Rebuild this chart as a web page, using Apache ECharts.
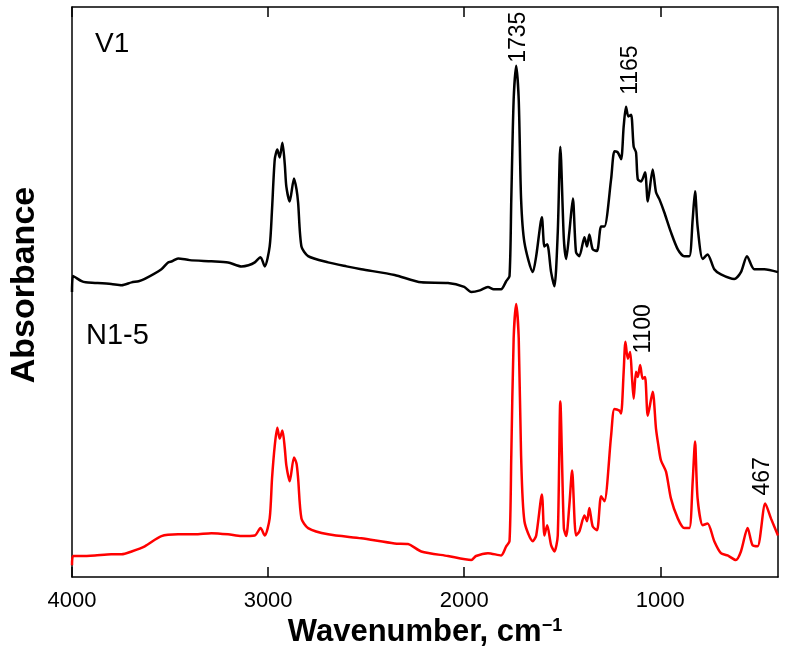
<!DOCTYPE html>
<html>
<head>
<meta charset="utf-8">
<script src="https://cdn.jsdelivr.net/npm/echarts@6/dist/echarts.min.js"></script>
<style>
  html, body { margin: 0; padding: 0; background: #fff; }
  #chart { width: 790px; height: 653px; }
</style>
</head>
<body>
<div id="chart"></div>
<script>
// FTIR spectra, absorbance in arbitrary units (V1 is drawn offset above N1-5)
const v1Wavenumber = [4000, 3995, 3951, 3930, 3883, 3800, 3747, 3696, 3660, 3629, 3544, 3510, 3490, 3459, 3400, 3289, 3204, 3136, 3100, 3068, 3039, 3017, 2992, 2980, 2966, 2953, 2941, 2927, 2915, 2907, 2890, 2868, 2855, 2847, 2830, 2796, 2694, 2600, 2525, 2355, 2219, 2083, 2000, 1964, 1920, 1879, 1850, 1812, 1786, 1769, 1760, 1748, 1735, 1722, 1710, 1693, 1650, 1633, 1604, 1591, 1577, 1557, 1540, 1523, 1510, 1492, 1480, 1464, 1446, 1430, 1413, 1387, 1374, 1362, 1345, 1323, 1302, 1285, 1251, 1234, 1217, 1200, 1187, 1175, 1163, 1149, 1136, 1124, 1115, 1098, 1078, 1064, 1039, 1022, 1005, 980, 946, 911, 878, 852, 835, 823, 810, 784, 759, 725, 691, 623, 589, 558, 521, 470, 400]
const v1Absorbance = [50.0, 52.8, 51.9, 51.7, 51.6, 51.4, 51.2, 51.7, 51.9, 52.3, 54.0, 55.2, 55.4, 55.9, 55.6, 55.4, 55.2, 54.5, 54.7, 55.2, 56.1, 54.5, 58.0, 64.5, 73.3, 75.0, 73.6, 76.2, 72.4, 68.5, 65.9, 69.9, 68.0, 65.7, 58.0, 56.3, 55.2, 54.5, 54.0, 53.0, 51.7, 51.6, 50.9, 50.0, 50.3, 50.9, 50.5, 50.5, 51.9, 52.8, 66.3, 83.7, 89.7, 83.7, 66.3, 58.7, 53.5, 56.3, 63.1, 58.0, 58.4, 53.5, 51.0, 60.5, 75.5, 59.3, 55.8, 60.5, 66.4, 57.0, 56.3, 59.6, 58.0, 60.1, 57.5, 57.2, 61.5, 61.5, 69.8, 74.7, 74.5, 73.3, 79.0, 82.5, 80.8, 81.1, 75.5, 74.5, 69.8, 69.4, 71.0, 65.9, 71.5, 67.5, 66.3, 64.0, 60.5, 57.5, 56.3, 56.3, 62.8, 67.7, 61.5, 55.8, 56.6, 54.0, 53.1, 52.3, 53.5, 56.3, 54.0, 54.0, 53.5]

const n15Wavenumber = [4000, 3995, 3951, 3883, 3800, 3747, 3696, 3629, 3544, 3459, 3374, 3289, 3204, 3136, 3068, 3039, 3017, 2992, 2980, 2966, 2953, 2941, 2927, 2915, 2907, 2890, 2868, 2855, 2847, 2830, 2796, 2694, 2525, 2355, 2287, 2219, 2083, 1964, 1940, 1879, 1812, 1786, 1769, 1760, 1748, 1735, 1722, 1710, 1693, 1650, 1633, 1604, 1591, 1577, 1557, 1540, 1523, 1510, 1492, 1480, 1464, 1450, 1430, 1413, 1387, 1374, 1362, 1345, 1323, 1302, 1285, 1251, 1234, 1209, 1200, 1187, 1178, 1166, 1154, 1145, 1136, 1124, 1115, 1103, 1090, 1078, 1064, 1039, 1022, 1010, 997, 971, 946, 911, 878, 852, 835, 823, 810, 784, 759, 725, 691, 657, 615, 589, 555, 530, 504, 465, 436, 400]
const n15Absorbance = [2.1, 3.7, 3.7, 3.8, 4.0, 4.0, 4.5, 5.4, 7.2, 7.5, 7.5, 7.7, 7.5, 7.2, 7.3, 8.6, 7.3, 10.3, 17.3, 23.1, 26.2, 24.3, 25.7, 22.6, 19.6, 16.8, 21.0, 19.9, 17.3, 10.3, 8.6, 7.5, 6.8, 5.9, 5.8, 4.5, 3.7, 3.0, 3.7, 4.2, 3.8, 5.4, 6.3, 21.3, 41.8, 47.9, 41.8, 21.3, 9.8, 6.3, 7.3, 14.5, 7.3, 9.1, 5.6, 4.5, 7.3, 30.8, 8.6, 7.2, 12.6, 18.7, 7.3, 8.0, 10.8, 9.8, 12.1, 8.9, 8.2, 14.2, 13.3, 24.8, 29.5, 29.2, 28.7, 36.0, 41.3, 38.3, 39.5, 35.3, 31.3, 36.0, 35.1, 37.2, 34.8, 35.1, 28.3, 32.5, 26.0, 23.1, 20.5, 18.5, 13.8, 10.3, 8.6, 8.6, 16.8, 23.8, 13.8, 9.1, 9.4, 6.3, 4.2, 3.8, 3.0, 4.5, 8.6, 5.6, 5.4, 12.9, 10.3, 7.3]

const xTicks = [4000, 3000, 2000, 1000]

// peak annotations: [wavenumber, level, text]
const v1Peaks = [[1721, 90.2, '1735'], [1149, 84.6, '1165']]
const n15Peaks = [[1084, 39.2, '1100'], [478, 14.3, '467']]

const FONT = '"Liberation Sans", Arial, sans-serif'

function pairs(xs, ys) {
  return xs.map((x, i) => [x, ys[i]])
}

function peakMarks(peaks) {
  return {
    symbol: 'circle',
    symbolSize: 1,
    silent: true,
    itemStyle: { color: 'rgba(0,0,0,0)' },
    label: {
      show: true,
      position: 'inside',
      rotate: 90,
      align: 'left',
      verticalAlign: 'middle',
      color: '#000',
      fontFamily: FONT,
      fontSize: 23
    },
    data: peaks.map(p => ({ coord: [p[0], p[1]], value: p[2], label: { formatter: p[2] } }))
  }
}

const chart = echarts.init(document.getElementById('chart'), null, { renderer: 'canvas' })

const xCommon = {
  type: 'value',
  inverse: true,
  min: 400,
  max: 4000,
  splitLine: { show: false },
  axisLine: { show: true, onZero: false, lineStyle: { color: '#000', width: 1.5 } },
  axisTick: { show: true, inside: true, length: 10, customValues: xTicks, lineStyle: { color: '#000', width: 1.5 } }
}

chart.setOption({
  animation: false,
  backgroundColor: '#fff',
  grid: { left: 70, right: 12, top: 7, bottom: 74, containLabel: false },
  xAxis: [
    Object.assign({}, xCommon, {
      position: 'bottom',
      name: 'Wavenumber, cm{sup|−1}',
      nameLocation: 'middle',
      nameGap: 33,
      nameTextStyle: {
        color: '#000',
        fontFamily: FONT,
        fontWeight: 'bold',
        fontSize: 31,
        verticalAlign: 'top',
        rich: {
          sup: { fontSize: 18, fontWeight: 'bold', fontFamily: FONT, color: '#000', verticalAlign: 'top', padding: [0, 0, 13, 0] }
        }
      },
      axisLabel: {
        show: true,
        customValues: xTicks,
        formatter: v => String(v),
        margin: 13,
        color: '#000',
        fontFamily: FONT,
        fontSize: 22
      }
    }),
    Object.assign({}, xCommon, {
      position: 'top',
      axisLabel: { show: false }
    })
  ],
  yAxis: [
    {
      type: 'value',
      min: 0,
      max: 100,
      position: 'left',
      name: 'Absorbance',
      nameLocation: 'middle',
      nameGap: 30,
      nameTextStyle: { color: '#000', fontFamily: FONT, fontWeight: 'bold', fontSize: 34, padding: [0, 0, 0, 14] },
      splitLine: { show: false },
      axisLine: { show: true, lineStyle: { color: '#000', width: 1.5 } },
      axisTick: { show: false },
      axisLabel: { show: false }
    },
    {
      type: 'value',
      min: 0,
      max: 100,
      position: 'right',
      splitLine: { show: false },
      axisLine: { show: true, lineStyle: { color: '#000', width: 1.5 } },
      axisTick: { show: false },
      axisLabel: { show: false }
    }
  ],
  graphic: [
    { type: 'text', left: 95, top: 30, style: { text: 'V1', fill: '#000', font: '28px ' + FONT } },
    { type: 'text', left: 86, top: 321, style: { text: 'N1-5', fill: '#000', font: '29px ' + FONT } }
  ],
  series: [
    {
      name: 'V1',
      type: 'line',
      data: pairs(v1Wavenumber, v1Absorbance),
      showSymbol: false,
      symbol: 'none',
      smooth: 0.25,
      lineStyle: { color: '#000', width: 2.5 },
      markPoint: peakMarks(v1Peaks)
    },
    {
      name: 'N1-5',
      type: 'line',
      data: pairs(n15Wavenumber, n15Absorbance),
      showSymbol: false,
      symbol: 'none',
      smooth: 0.25,
      lineStyle: { color: '#ff0000', width: 2.5 },
      markPoint: peakMarks(n15Peaks)
    }
  ]
})
</script>
</body>
</html>
